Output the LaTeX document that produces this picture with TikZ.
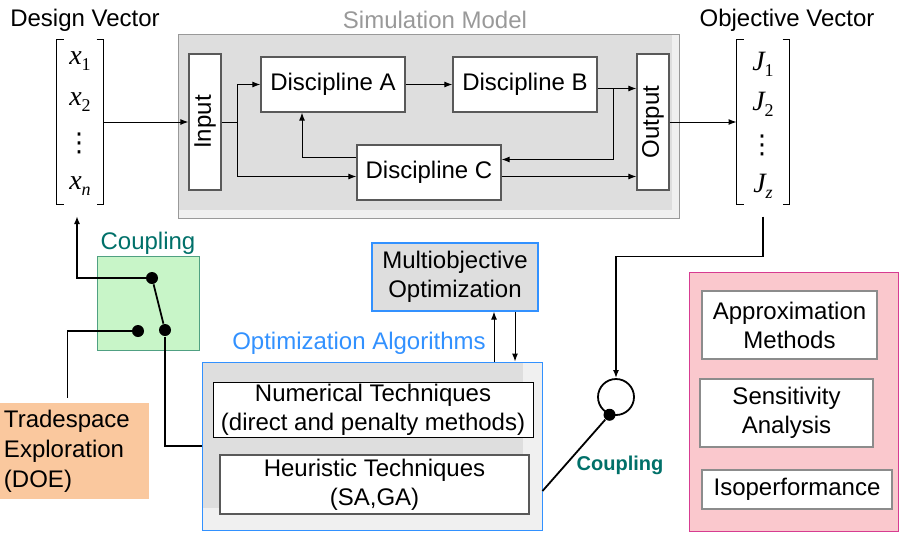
\documentclass[tikz,border=0pt]{standalone}
\usepackage{fontspec}
\setmainfont{Liberation Sans}
\newfontfamily\tms{Liberation Serif}
\newfontfamily\djv{DejaVu Sans}
\usepackage{graphicx}
\usepackage{tikz}
\usetikzlibrary{arrows.meta,calc}

\definecolor{simgray}{RGB}{222,222,222}
\definecolor{simlight}{RGB}{240,240,240}
\definecolor{cplgreen}{RGB}{200,245,200}
\definecolor{cplline}{RGB}{80,160,130}
\definecolor{cplteal}{RGB}{0,112,105}
\definecolor{tseorange}{RGB}{250,200,158}
\definecolor{pinkfill}{RGB}{250,200,205}
\definecolor{pinkline}{RGB}{215,60,145}
\definecolor{optblue}{RGB}{50,145,255}

\newcommand{\vent}[2]{{\tms\fontsize{28}{28}\selectfont\itshape #1}\raisebox{-6pt}{\tms\fontsize{18}{18}\selectfont #2}}
\newcommand{\vdot}{{\djv\fontsize{26}{26}\selectfont ⋮}}

\begin{document}
\begin{tikzpicture}[x=1pt,y=-1pt,>={Latex[length=8pt,width=6pt]},line width=1pt,font=\fontsize{24}{29}\selectfont]
		\tikzstyle{block}=[draw=black!65,line width=1.3pt,fill=white,inner sep=0pt,align=center]
		\tikzstyle{tool}=[draw=black!45,line width=1.3pt,fill=white,inner sep=0pt,align=center]
		\tikzstyle{panel}=[draw=black!40,fill=simlight,inner sep=0pt]
		\tikzstyle{bracket}=[line width=1.5pt]
		\tikzstyle{wire}=[line width=1.8pt]
		\tikzstyle{dot}=[circle,fill=black,minimum size=12pt,inner sep=0pt]
		\tikzstyle{entry}=[inner sep=0pt]
		
		\useasboundingbox (0,0) rectangle (901,533);
		
		% simulation model
		\node[text=black!40] (simtitle) at (435,20) {Simulation Model};
		\node[panel,minimum width=501pt,minimum height=184pt] (sim) at (428.5,126) {};
		\fill[simgray] ([shift={(1,1)}]sim.north west) rectangle ([shift={(-8,-9)}]sim.south east);
		\node[block,minimum width=32pt,minimum height=136pt] (input) at (205,122) {\rotatebox{90}{Input}};
		\node[block,minimum width=144pt,minimum height=55pt] (A) at (333,84.5) {Discipline A};
		\node[block,minimum width=144pt,minimum height=55pt] (B) at (525,84.5) {Discipline B};
		\node[block,minimum width=144pt,minimum height=55pt] (C) at (429,172.5) {Discipline C};
		\node[block,minimum width=32pt,minimum height=136pt] (output) at (653,122) {\rotatebox{90}{Output}};
		
		% design and objective vectors
		\node (dvtitle) at (85,20) {Design Vector};
		\node[minimum width=46pt,minimum height=164pt,inner sep=0pt] (dv) at (80,122) {};
		\draw[bracket] ([xshift=7pt]dv.north west) -- (dv.north west) -- (dv.south west) -- ([xshift=7pt]dv.south west);
		\draw[bracket] ([xshift=-7pt]dv.north east) -- (dv.north east) -- (dv.south east) -- ([xshift=-7pt]dv.south east);
		\node[entry] (x1) at (80,61) {\vent{x}{1}};
		\node[entry] (x2) at (80,102) {\vent{x}{2}};
		\node[entry] (xd) at (79,143) {\vdot};
		\node[entry] (xn) at (80,186) {\vent{x}{\itshape n}};
		
		\node (ovtitle) at (787,20) {Objective Vector};
		\node[minimum width=52pt,minimum height=164pt,inner sep=0pt] (ov) at (763,122) {};
		\draw[bracket] ([xshift=7pt]ov.north west) -- (ov.north west) -- (ov.south west) -- ([xshift=7pt]ov.south west);
		\draw[bracket] ([xshift=-7pt]ov.north east) -- (ov.north east) -- (ov.south east) -- ([xshift=-7pt]ov.south east);
		\node[entry] (J1) at (763,64) {\vent{J}{1}};
		\node[entry] (J2) at (763,104) {\vent{J}{2}};
		\node[entry] (Jd) at (762,145) {\vdot};
		\node[entry] (Jz) at (763,186) {\vent{J}{\itshape z}};
		
		% simulation model connectors
		\draw[->] (dv.east) -- (input.west);
		\draw (input.east) -- ++(16,0) coordinate (split);
		\draw[->] (split) |- (A.west);
		\draw[->] (split) |- ([yshift=-4pt]C.west);
		\draw[->] (A.east) -- (B.west);
		\coordinate (bout) at ([yshift=-4pt]B.east);
		\coordinate (cout) at ([yshift=-4pt]C.east);
		\draw[->] (bout) -- (bout -| output.west);
		\draw[->] ([xshift=16pt]bout) |- ([yshift=13pt]C.east);
		\draw[->] ([yshift=15pt]C.west) -| ([xshift=-31pt]A.south);
		\draw[->] (cout) -- (cout -| output.west);
		\draw[->] (output.east) -- (ov.west);
		
		% optimization
		\node[draw=optblue,fill=simlight,minimum width=340pt,minimum height=168pt] (opt) at (372,446) {};
		\fill[simgray] ([shift={(1,1)}]opt.north west) rectangle ([shift={(-20,-23)}]opt.south east);
		\node[text=optblue] (opttitle) at (359,343) {Optimization Algorithms};
		\node[block,draw=black,line width=1pt,minimum width=320pt,minimum height=55pt] (num) at (373,409.5) {Numerical Techniques\\(direct and penalty methods)};
		\node[block,minimum width=309pt,minimum height=59pt] (heu) at (374.5,484.5) {Heuristic Techniques\\(SA,GA)};
		\node[draw=optblue,line width=1.3pt,fill=simgray,minimum width=166pt,minimum height=68pt,align=center] (mo) at (455,277) {Multiobjective\\Optimization};
		\coordinate (mup) at ([xshift=39pt]mo.south);
		\coordinate (mdn) at ([xshift=60pt]mo.south);
		\draw[->] (mup |- opt.north) -- (mup);
		\draw[->] (mdn) -- (mdn |- opt.north);
		
		% analysis tools
		\node[draw=pinkline,fill=pinkfill,minimum width=209pt,minimum height=259pt] (pk) at (793.5,401.5) {};
		\node[tool,minimum width=175pt,minimum height=68pt] (appr) at (789.5,325) {Approximation\\Methods};
		\node[tool,minimum width=173pt,minimum height=68pt] (sens) at (786.5,413) {Sensitivity\\Analysis};
		\node[tool,minimum width=190pt,minimum height=39pt] (iso) at (797,489.5) {Isoperformance};
		
		% tradespace and couplings
		\node[fill=tseorange,minimum height=96pt,text width=141pt,inner sep=4pt,align=left,font=\fontsize{24}{30}\selectfont] (tse) at (74.5,451) {Tradespace\\Exploration\\(DOE)};
		\node[text=cplteal] (cpltitle) at (148,243) {Coupling};
		\node[draw=cplline,fill=cplgreen,minimum width=102pt,minimum height=94pt] (cpl) at (148,303) {};
		\node[dot] (d1) at (152,278) {};
		\node[dot] (d2) at (138,331) {};
		\node[dot] (d3) at (165,330) {};
		\coordinate (dvin) at (77,216);
		\draw[wire,->] (d1) -| (dvin);
		\draw[wire] (d1) -- (d3);
		\draw[wire,shorten >=5pt] (d2) -| ([xshift=-7pt]tse.north);
		\draw[wire] (d3) |- (opt.west);
		
		\node[draw,circle,minimum size=36pt,line width=1.8pt] (loop) at (616,397) {};
		\draw[wire,->] ([yshift=-12pt]ov.south) -- ++(0,40) -| (loop.north);
		\node[dot] (d4) at (loop.250) {};
		\draw[wire] (d4) -- ([yshift=-45pt]opt.east);
		\node[font=\bfseries\fontsize{20}{24}\selectfont,text=cplteal] (cplout) at (620,465) {Coupling};
		
	\end{tikzpicture}
\end{document}
